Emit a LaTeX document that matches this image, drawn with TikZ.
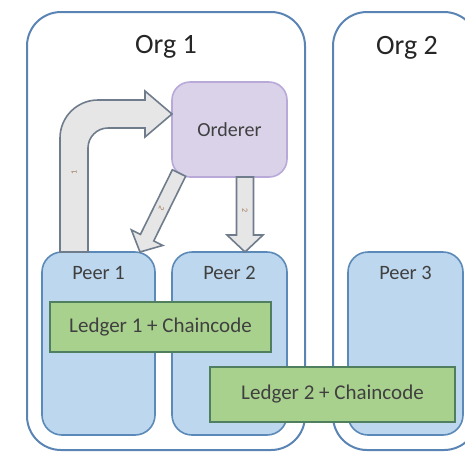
\documentclass[tikz,border=0pt]{standalone}
\usepackage{fontspec}
\setmainfont{Carlito}
\usetikzlibrary{calc}

\definecolor{orgline}{HTML}{5A84B4}
\definecolor{peerfill}{HTML}{BDD7EE}
\definecolor{peerline}{HTML}{5B89B8}
\definecolor{ordfill}{HTML}{D9D2E9}
\definecolor{ordline}{HTML}{B9A9D9}
\definecolor{ledgerfill}{HTML}{A9D18E}
\definecolor{ledgerline}{HTML}{4F7F5F}
\definecolor{arrowfill}{HTML}{E6E6E6}
\definecolor{arrowline}{HTML}{6F7C8C}
\definecolor{textgray}{HTML}{404040}
\definecolor{steptext}{HTML}{A07A5A}

\begin{document}
\begin{tikzpicture}[x=0.5pt,y=-0.5pt,
    orgbox/.style={draw=orgline, line width=1pt, rounded corners=17pt, inner sep=0pt, outer sep=0pt},
    orgtext/.style={text=black!85, font=\fontsize{14}{16}\selectfont},
    peerbox/.style={draw=peerline, fill=peerfill, line width=0.8pt, rounded corners=10pt,
        minimum width=57.5pt, minimum height=91.5pt, inner sep=0pt, outer sep=0pt},
    peertext/.style={text=textgray, font=\fontsize{10.2}{12}\selectfont},
    ordererbox/.style={draw=ordline, fill=ordfill, line width=0.8pt, rounded corners=9pt,
        minimum width=57.5pt, minimum height=47.5pt, inner sep=0pt, outer sep=0pt,
        text=textgray, font=\fontsize{10}{12}\selectfont},
    ledgerbox/.style={draw=ledgerline, fill=ledgerfill, line width=0.8pt, inner sep=0pt, outer sep=0pt,
        text=textgray, font=\fontsize{10.5}{12}\selectfont},
    blockarrow/.style={draw=arrowline, fill=arrowfill, line width=0.8pt, line join=miter},
    steplabel/.style={text=steptext, font=\fontsize{4}{5}\selectfont, inner sep=0pt}]
            \useasboundingbox (0,0) rectangle (465,462);

            % organisations
            \node[orgbox, minimum width=139pt, minimum height=219pt] (org1) at (166,231) {};
            \node[orgbox, minimum width=72.5pt, minimum height=219pt] (org2) at (405.5,231) {};
            \node[orgtext] (org1name) at (166,47) {Org 1};
            \node[orgtext] (org2name) at (407,48) {Org 2};

            % peers
            \node[peerbox, minimum width=56.5pt] (peer1) at (98.5,343.5) {};
            \node[peerbox] (peer2) at (229.5,343.5) {};
            \node[peerbox] (peer3) at (405.5,343.5) {};
            \node[peertext] (peer1name) at ($(peer1.north)+(0,21)$) {Peer 1};
            \node[peertext] (peer2name) at ($(peer2.north)+(0,21)$) {Peer 2};
            \node[peertext] (peer3name) at ($(peer3.north)+(0,21)$) {Peer 3};

            \node[ordererbox] (orderer) at (229.5,129.5) {Orderer};

            % ledgers
            \node[ledgerbox, minimum width=110.5pt, minimum height=25pt] (ledger1) at (160.5,327) {Ledger 1 + Chaincode};
            \node[ledgerbox, minimum width=122.5pt, minimum height=27.5pt] (ledger2) at (332.5,394.5) {Ledger 2 + Chaincode};

            % step 1: peer 1 -> orderer
            \coordinate (a1l) at ($(peer1.north west)+(18,0)$);
            \coordinate (a1r) at ($(peer1.north west)+(46,0)$);
            \coordinate (a1t) at ($(orderer.west)+(0,-15.5)$);
            \draw[blockarrow] (a1l) -- ($(a1l |- a1t)+(0,24)$) arc[start angle=180, end angle=270, radius=38]
                -- ($(a1t)+(-27,-14)$) -- ($(a1t)+(-27,-23)$) -- (a1t) -- ($(a1t)+(-27,23)$) -- ($(a1t)+(-27,14)$)
                -- ($(a1r |- a1t)+(20,14)$) arc[start angle=270, end angle=180, radius=20] -- (a1r) -- cycle;
            \node[steplabel, rotate=90] (step1) at ($(a1l)!0.5!(a1r)+(0,-80)$) {1};

            % step 2: orderer -> peer 1
            \coordinate (a2s) at ($(orderer.south west)+(7,-4)$);
            \coordinate (a2t) at ($(peer1.north east)+(-15,0)$);
            \coordinate (a2b) at ($(a2t)!8pt!(a2s)$);
            \draw[blockarrow] ($(a2s)!3.7pt!90:(a2t)$) -- ($(a2b)!3.7pt!-90:(a2s)$) -- ($(a2b)!8.75pt!-90:(a2s)$)
                -- (a2t) -- ($(a2b)!8.75pt!90:(a2s)$) -- ($(a2b)!3.7pt!90:(a2s)$) -- ($(a2s)!3.7pt!-90:(a2t)$) -- cycle;
            \node[steplabel, rotate=-116.6] (step2a) at ($(a2s)!0.45!(a2t)$) {2};

            % step 2: orderer -> peer 2
            \coordinate (a3s) at ($(orderer.south)+(15.5,0)$);
            \coordinate (a3t) at ($(peer2.north)+(15.5,0)$);
            \coordinate (a3b) at ($(a3t)!8.5pt!(a3s)$);
            \draw[blockarrow] ($(a3s)!4.25pt!90:(a3t)$) -- ($(a3b)!4.25pt!-90:(a3s)$) -- ($(a3b)!9pt!-90:(a3s)$)
                -- (a3t) -- ($(a3b)!9pt!90:(a3s)$) -- ($(a3b)!4.25pt!90:(a3s)$) -- ($(a3s)!4.25pt!-90:(a3t)$) -- cycle;
            \node[steplabel, rotate=-90] (step2b) at ($(a3s)!0.45!(a3t)$) {2};

        \end{tikzpicture}
\end{document}
